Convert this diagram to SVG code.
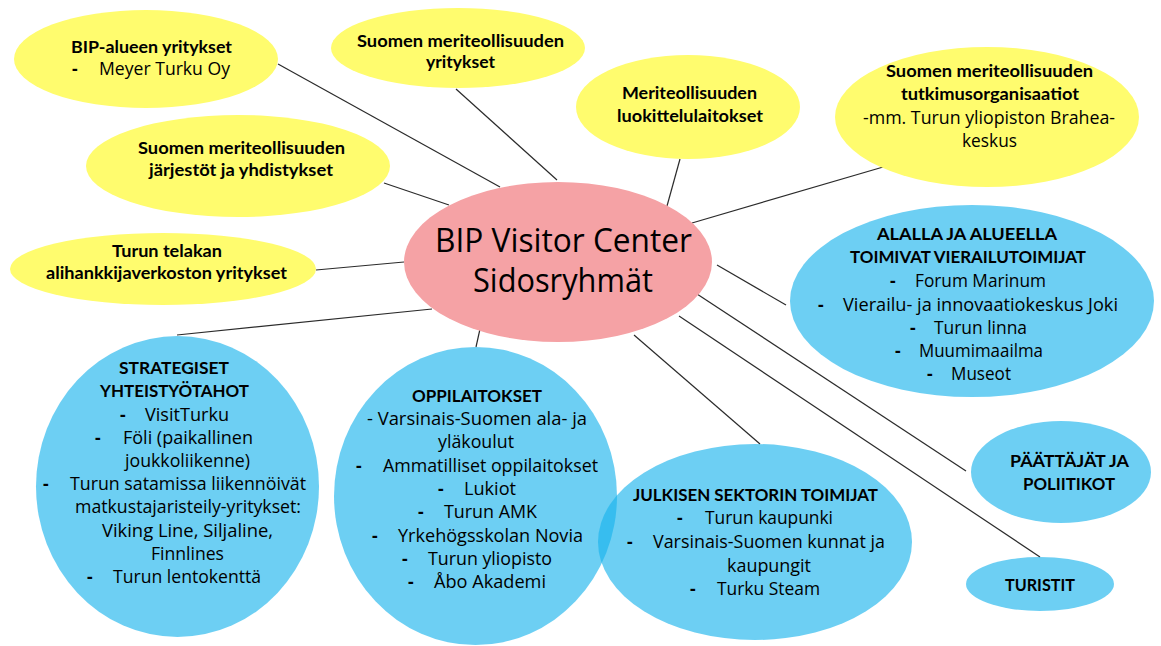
<svg xmlns="http://www.w3.org/2000/svg" width="1161" height="646" viewBox="0 0 1161 646">
  <style>
    .yel { fill: #FFFC6E; }
    .pink { fill: #F5A2A5; }
    .blue { fill: #17B3EC; fill-opacity: 0.63; }
    .con { stroke: #2B2B2B; stroke-width: 1.2; fill: none; }
    text { fill: #000; }
    .h { font-family: Lato, "Open Sans", sans-serif; font-weight: bold; font-size: 17px; }
    .t { font-family: "Open Sans", "Noto Sans", sans-serif; font-size: 17.5px; }
    .d { font-family: "Open Sans", "Noto Sans", sans-serif; font-size: 17.5px; font-weight: bold; }
    .m { text-anchor: middle; }
    .title { font-family: "Open Sans", "Noto Sans", sans-serif; font-size: 32px; text-anchor: middle; }
  </style>
  <rect width="1161" height="646" fill="#FFFFFF"/>

  <!-- spokes from the hub to each stakeholder group -->
  <g id="connectors">
    <line class="con" x1="278" y1="64" x2="500" y2="187"/>
    <line class="con" x1="456" y1="89" x2="557" y2="180"/>
    <line class="con" x1="680" y1="159" x2="667" y2="206"/>
    <line class="con" x1="890" y1="165" x2="692" y2="223"/>
    <line class="con" x1="384" y1="183" x2="449" y2="205"/>
    <line class="con" x1="316" y1="270" x2="404" y2="262"/>
    <line class="con" x1="177" y1="335" x2="432" y2="309"/>
    <line class="con" x1="480" y1="329" x2="476" y2="347"/>
    <line class="con" x1="634" y1="335" x2="760" y2="444"/>
    <line class="con" x1="679" y1="316" x2="1040" y2="557"/>
    <line class="con" x1="697" y1="294" x2="966" y2="471"/>
    <line class="con" x1="717" y1="265" x2="786" y2="305"/>
  </g>

  <g id="bip-alueen-yritykset">
    <ellipse class="yel" cx="146" cy="59" rx="132" ry="49"/>
    <text class="h m" x="151.5" y="53" textLength="161" lengthAdjust="spacingAndGlyphs">BIP-alueen yritykset</text>
    <text class="d" x="72" y="75">-</text>
    <text class="t" x="99" y="75" textLength="131" lengthAdjust="spacingAndGlyphs">Meyer Turku Oy</text>
  </g>

  <g id="jarjestot-ja-yhdistykset">
    <ellipse class="yel" cx="238" cy="166" rx="152" ry="51"/>
    <text class="h m" x="241.5" y="154" textLength="207" lengthAdjust="spacingAndGlyphs">Suomen meriteollisuuden</text>
    <text class="h m" x="241" y="176" textLength="184" lengthAdjust="spacingAndGlyphs">järjestöt ja yhdistykset</text>
  </g>

  <g id="alihankkijaverkosto">
    <ellipse class="yel" cx="163" cy="269" rx="153" ry="36"/>
    <text class="h m" x="167" y="257" textLength="110" lengthAdjust="spacingAndGlyphs">Turun telakan</text>
    <text class="h m" x="166.5" y="279" textLength="241" lengthAdjust="spacingAndGlyphs">alihankkijaverkoston yritykset</text>
  </g>

  <g id="meriteollisuuden-yritykset">
    <ellipse class="yel" cx="458" cy="48" rx="127" ry="40"/>
    <text class="h m" x="460.5" y="47" textLength="207" lengthAdjust="spacingAndGlyphs">Suomen meriteollisuuden</text>
    <text class="h m" x="460.5" y="68" textLength="69" lengthAdjust="spacingAndGlyphs">yritykset</text>
  </g>

  <g id="luokittelulaitokset">
    <ellipse class="yel" cx="688" cy="107" rx="112" ry="52"/>
    <text class="h m" x="689.5" y="99" textLength="135" lengthAdjust="spacingAndGlyphs">Meriteollisuuden</text>
    <text class="h m" x="690" y="122" textLength="146" lengthAdjust="spacingAndGlyphs">luokittelulaitokset</text>
  </g>

  <g id="tutkimusorganisaatiot">
    <ellipse class="yel" cx="987" cy="117" rx="152" ry="70"/>
    <text class="h m" x="989.5" y="77" textLength="207" lengthAdjust="spacingAndGlyphs">Suomen meriteollisuuden</text>
    <text class="h m" x="990" y="100" textLength="178" lengthAdjust="spacingAndGlyphs">tutkimusorganisaatiot</text>
    <text class="t m" x="989" y="124" textLength="252" lengthAdjust="spacingAndGlyphs">-mm. Turun yliopiston Brahea-</text>
    <text class="t m" x="989.5" y="147" textLength="55" lengthAdjust="spacingAndGlyphs">keskus</text>
  </g>

  <g id="hub">
    <ellipse class="pink" cx="558" cy="262" rx="154" ry="80"/>
    <text class="title" x="563.5" y="252" textLength="257" lengthAdjust="spacingAndGlyphs">BIP Visitor Center</text>
    <text class="title" x="563" y="292" textLength="180" lengthAdjust="spacingAndGlyphs">Sidosryhmät</text>
  </g>

  <g id="vierailutoimijat">
    <ellipse class="blue" cx="972" cy="301" rx="182" ry="96"/>
    <text class="h m" x="967" y="240" textLength="180" lengthAdjust="spacingAndGlyphs">ALALLA JA ALUEELLA</text>
    <text class="h m" x="968" y="263" textLength="236" lengthAdjust="spacingAndGlyphs">TOIMIVAT VIERAILUTOIMIJAT</text>
    <text class="d" x="890" y="287">-</text>
    <text class="t" x="915" y="287" textLength="131" lengthAdjust="spacingAndGlyphs">Forum Marinum</text>
    <text class="d" x="818" y="311">-</text>
    <text class="t" x="843" y="311" textLength="275" lengthAdjust="spacingAndGlyphs">Vierailu- ja innovaatiokeskus Joki</text>
    <text class="d" x="910" y="334">-</text>
    <text class="t" x="934" y="334" textLength="93" lengthAdjust="spacingAndGlyphs">Turun linna</text>
    <text class="d" x="895" y="357">-</text>
    <text class="t" x="919" y="357" textLength="124" lengthAdjust="spacingAndGlyphs">Muumimaailma</text>
    <text class="d" x="927" y="380">-</text>
    <text class="t" x="951" y="380" textLength="60" lengthAdjust="spacingAndGlyphs">Museot</text>
  </g>

  <g id="strategiset-yhteistyotahot">
    <ellipse class="blue" cx="177.5" cy="486.5" rx="141.5" ry="150.5"/>
    <text class="h m" x="174" y="374" textLength="110" lengthAdjust="spacingAndGlyphs">STRATEGISET</text>
    <text class="h m" x="174.5" y="397" textLength="149" lengthAdjust="spacingAndGlyphs">YHTEISTYÖTAHOT</text>
    <text class="d" x="120" y="421">-</text>
    <text class="t" x="145" y="421" textLength="84" lengthAdjust="spacingAndGlyphs">VisitTurku</text>
    <text class="d" x="95" y="444">-</text>
    <text class="t" x="123" y="444" textLength="130" lengthAdjust="spacingAndGlyphs">Föli (paikallinen</text>
    <text class="t" x="125" y="467" textLength="125" lengthAdjust="spacingAndGlyphs">joukkoliikenne)</text>
    <text class="d" x="43" y="490">-</text>
    <text class="t" x="70" y="490" textLength="236" lengthAdjust="spacingAndGlyphs">Turun satamissa liikennöivät</text>
    <text class="t m" x="188" y="513" textLength="226" lengthAdjust="spacingAndGlyphs">matkustajaristeily-yritykset:</text>
    <text class="t m" x="187.5" y="537" textLength="171" lengthAdjust="spacingAndGlyphs">Viking Line, Siljaline,</text>
    <text class="t m" x="187.5" y="560" textLength="73" lengthAdjust="spacingAndGlyphs">Finnlines</text>
    <text class="d" x="87" y="583">-</text>
    <text class="t" x="113" y="583" textLength="148" lengthAdjust="spacingAndGlyphs">Turun lentokenttä</text>
  </g>

  <g id="oppilaitokset">
    <ellipse class="blue" cx="475.5" cy="496" rx="141.5" ry="149"/>
    <text class="h m" x="477" y="402" textLength="130" lengthAdjust="spacingAndGlyphs">OPPILAITOKSET</text>
    <text class="t m" x="477" y="425" textLength="220" lengthAdjust="spacingAndGlyphs">- Varsinais-Suomen ala- ja</text>
    <text class="t m" x="476" y="448" textLength="76" lengthAdjust="spacingAndGlyphs">yläkoulut</text>
    <text class="d" x="356" y="472">-</text>
    <text class="t" x="383" y="472" textLength="215" lengthAdjust="spacingAndGlyphs">Ammatilliset oppilaitokset</text>
    <text class="d" x="438" y="495">-</text>
    <text class="t" x="464" y="495" textLength="52" lengthAdjust="spacingAndGlyphs">Lukiot</text>
    <text class="d" x="418" y="518">-</text>
    <text class="t" x="444" y="518" textLength="93" lengthAdjust="spacingAndGlyphs">Turun AMK</text>
    <text class="d" x="372" y="542">-</text>
    <text class="t" x="398" y="542" textLength="185" lengthAdjust="spacingAndGlyphs">Yrkehögsskolan Novia</text>
    <text class="d" x="402" y="565">-</text>
    <text class="t" x="428" y="565" textLength="124" lengthAdjust="spacingAndGlyphs">Turun yliopisto</text>
    <text class="d" x="408" y="588">-</text>
    <text class="t" x="434" y="588" textLength="112" lengthAdjust="spacingAndGlyphs">Åbo Akademi</text>
  </g>

  <g id="julkisen-sektorin-toimijat">
    <ellipse class="blue" cx="755" cy="542" rx="157" ry="98"/>
    <text class="h m" x="755.5" y="501" textLength="245" lengthAdjust="spacingAndGlyphs">JULKISEN SEKTORIN TOIMIJAT</text>
    <text class="d" x="677" y="524">-</text>
    <text class="t" x="705" y="524" textLength="128" lengthAdjust="spacingAndGlyphs">Turun kaupunki</text>
    <text class="d" x="627" y="548">-</text>
    <text class="t" x="653" y="548" textLength="232" lengthAdjust="spacingAndGlyphs">Varsinais-Suomen kunnat ja</text>
    <text class="t" x="727" y="572" textLength="84" lengthAdjust="spacingAndGlyphs">kaupungit</text>
    <text class="d" x="690" y="595">-</text>
    <text class="t" x="717" y="595" textLength="103" lengthAdjust="spacingAndGlyphs">Turku Steam</text>
  </g>

  <g id="paattajat-ja-poliitikot">
    <ellipse class="blue" cx="1061" cy="472" rx="90" ry="51"/>
    <text class="h m" x="1069.5" y="467" textLength="119" lengthAdjust="spacingAndGlyphs">PÄÄTTÄJÄT JA</text>
    <text class="h m" x="1069" y="490" textLength="92" lengthAdjust="spacingAndGlyphs">POLIITIKOT</text>
  </g>

  <g id="turistit">
    <ellipse class="blue" cx="1040" cy="584" rx="74" ry="27"/>
    <text class="h m" x="1040" y="591" textLength="70" lengthAdjust="spacingAndGlyphs">TURISTIT</text>
  </g>
</svg>
